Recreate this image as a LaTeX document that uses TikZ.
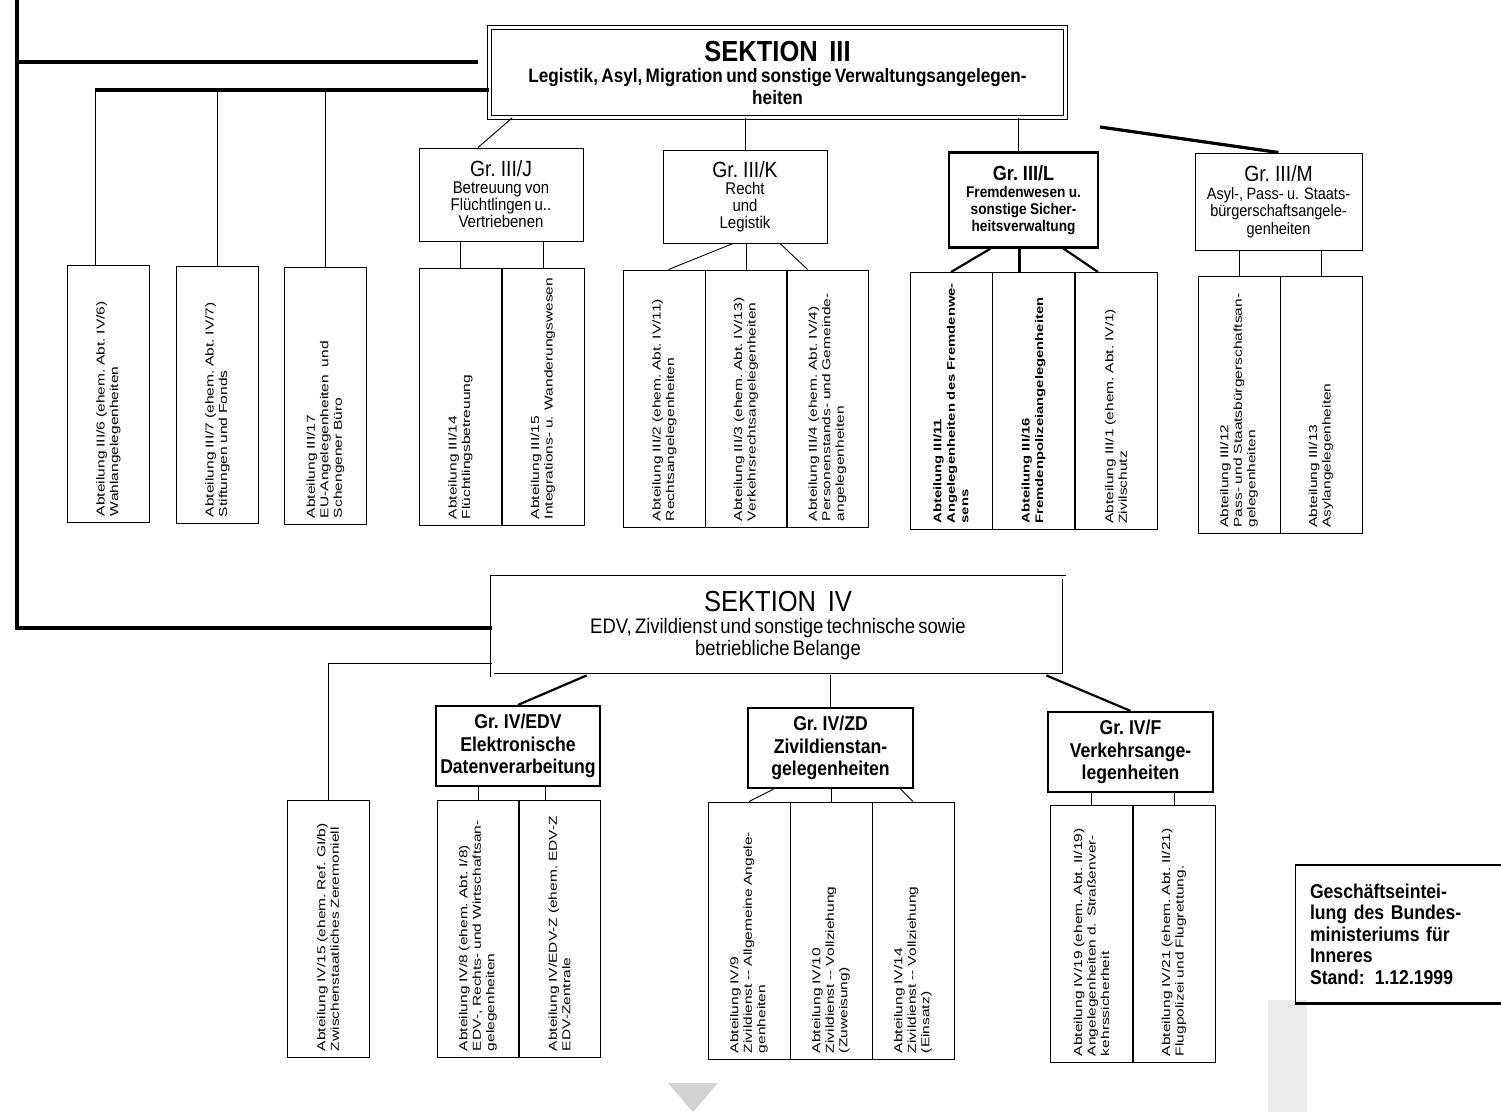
\documentclass[tikz,border=0pt]{standalone}
\usepackage{fontspec}
\setmainfont{Liberation Sans}
\newfontfamily\narrowsf{Liberation Sans}[FakeStretch=0.88]
\newfontfamily\widesf{Liberation Sans}[FakeStretch=1.35]

\tikzset{
  heavy/.style={line width=3.2pt},
  link/.style={line width=0.9pt},
  boldlink/.style={line width=2.2pt},
  sekbox/.style={draw, double, double distance=3pt, line width=0.9pt, inner sep=0pt, align=center, font=\narrowsf},
  grbox/.style={draw, line width=1pt, inner sep=0pt, align=center, font=\narrowsf},
  grboxb/.style={grbox, line width=2.2pt},
  abtbox/.style={draw, line width=1pt, rotate=90, minimum height=82pt, text width=245pt,
    inner xsep=6pt, inner ysep=0pt, align=left, font=\widesf\fontsize{11.5}{13.5}\selectfont},
  stampbox/.style={draw, line width=1pt, minimum width=202pt, minimum height=138pt, text width=176pt,
    inner xsep=15pt, align=left, font=\narrowsf\bfseries\fontsize{20}{21.5}\selectfont},
}

\begin{document}
\begin{tikzpicture}[x=1pt, y=-1pt]
\useasboundingbox (0,0) rectangle (1501,1112);

% scan marks
\fill[gray!35] (668,1083) -- (718,1083) -- (693,1112) -- cycle;
\fill[gray!15] (1268,1000) rectangle (1307,1112);

% Sektion III
\node[sekbox, minimum width=576pt, minimum height=90pt, text width=560pt] (sIII) at (777.5,72.5)
  {{\fontsize{29}{32}\selectfont\bfseries SEKTION\hspace{0.4em}III\par}
   {\fontsize{19.5}{21.5}\selectfont\bfseries Legistik, Asyl, Migration und sonstige Verwaltungsangelegen-\\heiten\par}};

\node[grbox, minimum width=164pt, minimum height=93pt, text width=150pt] (gIIIJ) at (501,194.5)
  {{\fontsize{22}{24}\selectfont Gr. III/J\par}\fontsize{17}{17}\selectfont Betreuung von\\Flüchtlingen u..\\Vertriebenen\par};
\node[grbox, minimum width=164pt, minimum height=93pt, text width=150pt] (gIIIK) at (745,196.5)
  {{\fontsize{22}{24}\selectfont Gr. III/K\par}\fontsize{17}{17}\selectfont Recht\\und\\Legistik\par};
\node[grboxb, minimum width=149pt, minimum height=95pt, text width=140pt] (gIIIL) at (1023.5,200)
  {{\fontsize{20.5}{23}\selectfont\bfseries Gr. III/L\par}\fontsize{15.5}{17}\selectfont\bfseries Fremdenwesen u.\\sonstige Sicher-\\heitsverwaltung\par};
\node[grbox, minimum width=167pt, minimum height=97pt, text width=160pt] (gIIIM) at (1278.5,201.5)
  {{\fontsize{22}{24}\selectfont Gr. III/M\par}\fontsize{16.5}{17.5}\selectfont Asyl-, Pass- u. Staats-\\bürgerschaftsangele-\\genheiten\par};

% Abteilungen Sektion III
\node[abtbox] (A1) at (108.5,393.5) {Abteilung III/6 (ehem.\ Abt.\ IV/6)\\Wahlangelegenheiten};
\node[abtbox] (A2) at (217.5,394.5) {Abteilung III/7 (ehem.\ Abt.\ IV/7)\\Stiftungen und Fonds};
\node[abtbox] (A3) at (325.5,395.5) {Abteilung III/17\\EU-Angelegenheiten\ \ und\\Schengener Büro};
\node[abtbox] (J1) at (460.5,396.5) {Abteilung III/14\\Flüchtlingsbetreuung};
\node[abtbox] (J2) at (543,396.5) {Abteilung III/15\\Integrations- u. Wanderungswesen};
\node[abtbox] (K1) at (664.5,398.5) {Abteilung III/2 (ehem.\ Abt.\ IV/11)\\Rechtsangelegenheiten};
\node[abtbox] (K2) at (746,398.5) {Abteilung III/3 (ehem.\ Abt.\ IV/13)\\Verkehrsrechtsangelegenheiten};
\node[abtbox] (K3) at (827.5,398.5) {Abteilung III/4 (ehem.\ Abt.\ IV/4)\\Personenstands- und Gemeinde-\\angelegenheiten};
\node[abtbox] (L1) at (951,401) {\bfseries\fontsize{11}{13.5}\selectfont Abteilung III/11\\Angelegenheiten des Fremdenwe-\\sens\par};
\node[abtbox] (L2) at (1033.5,401) {\bfseries\fontsize{11}{13.5}\selectfont Abteilung III/16\\Fremdenpolizeiangelegenheiten\par};
\node[abtbox] (L3) at (1116,401) {Abteilung III/1 (ehem.\ Abt.\ IV/1)\\Zivilschutz};
\node[abtbox] (M1) at (1239,405) {Abteilung III/12\\Pass- und Staatsbürgerschaftsan-\\gelegenheiten};
\node[abtbox] (M2) at (1321,405) {Abteilung III/13\\Asylangelegenheiten};

% Sektion IV
\node[sekbox, minimum width=572pt, minimum height=98pt, text width=560pt] (sIV) at (778,626)
  {{\fontsize{29}{32}\selectfont SEKTION\hspace{0.4em}IV\par}
   {\fontsize{21}{22}\selectfont EDV, Zivildienst und sonstige technische sowie\\betriebliche Belange\par}};

\node[grboxb, minimum width=164pt, minimum height=80pt, text width=160pt] (gIVEDV) at (518,746)
  {\fontsize{20}{22.5}\selectfont\bfseries Gr. IV/EDV\\Elektronische\\Datenverarbeitung\par};
\node[grboxb, minimum width=165pt, minimum height=80pt, text width=160pt] (gIVZD) at (830.5,748)
  {\fontsize{20}{22.5}\selectfont\bfseries Gr. IV/ZD\\Zivildienstan-\\gelegenheiten\par};
\node[grboxb, minimum width=165pt, minimum height=80pt, text width=160pt] (gIVF) at (1130.5,752)
  {\fontsize{20}{22.5}\selectfont\bfseries Gr. IV/F\\Verkehrsange-\\legenheiten\par};

% Abteilungen Sektion IV
\node[abtbox] (IV15) at (328,928.5) {Abteilung IV/15 (ehem.\ Ref.\ GI/b)\\Zwischenstaatliches Zeremoniell};
\node[abtbox] (E1) at (478,928.5) {Abteilung IV/8 (ehem.\ Abt.\ I/8)\\EDV-, Rechts- und Wirtschaftsan-\\gelegenheiten};
\node[abtbox] (E2) at (559.5,928.5) {Abteilung IV/EDV-Z (ehem.\ EDV-Z\\EDV-Zentrale};
\node[abtbox] (Z1) at (749,930.5) {Abteilung IV/9\\Zivildienst -- Allgemeine Angele-\\genheiten};
\node[abtbox] (Z2) at (831,930.5) {Abteilung IV/10\\Zivildienst -- Vollziehung\\(Zuweisung)};
\node[abtbox] (Z3) at (913,930.5) {Abteilung IV/14\\Zivildienst -- Vollziehung\\(Einsatz)};
\node[abtbox] (F1) at (1091.5,933.5) {Abteilung IV/19 (ehem.\ Abt.\ II/19)\\Angelegenheiten d. Straßenver-\\kehrssicherheit};
\node[abtbox] (F2) at (1174,933.5) {Abteilung IV/21 (ehem.\ Abt.\ II/21)\\Flugpolizei und Flugrettung.};

% Stand
\node[stampbox] (stamp) at (1398,934) {Geschäftseintei-\\lung des Bundes-\\ministeriums für\\Inneres\\Stand: 1.12.1999\par};
\draw[line width=2.5pt] (stamp.south west) -- (stamp.south east);
\draw[line width=1.8pt] (stamp.north west) -- (stamp.north east);

% feeders
\coordinate (spineT) at (17,0);
\coordinate (spineB) at (17,628);
\coordinate (feedIII) at (478,62);
\coordinate (bus) at (95,90);
\coordinate (feedM) at (1100,127);

\draw[heavy] (spineT) -- (spineB) -- (sIV.west |- spineB);
\draw[heavy] (spineT |- feedIII) -- (feedIII);
\draw[heavy] (bus) -- (sIII.west |- bus);
\draw[link] (bus) -- (bus |- A1.east);
\draw[link] (A2.east) -- (A2.east |- bus);
\draw[link] (A3.east) -- (A3.east |- bus);

% Sektion III to groups
\draw[link] ([xshift=23pt]sIII.south west) -- ([xshift=-23pt]gIIIJ.north);
\draw[link] (gIIIK.north) -- (gIIIK.north |- sIII.south);
\draw[link] ([xshift=-5pt]gIIIL.north) -- ([xshift=-5pt]gIIIL.north |- sIII.south);
\draw[heavy] (feedM) -- (gIIIM.north);

% groups to Abteilungen (III)
\draw[link] (J1.east) -- (J1.east |- gIIIJ.south);
\draw[link] (J2.east) -- (J2.east |- gIIIJ.south);
\draw[link] ([xshift=-12pt]gIIIK.south) -- ([xshift=4pt]K1.east);
\draw[link] (K2.east) -- (K2.east |- gIIIK.south);
\draw[link] ([xshift=35pt]gIIIK.south) -- ([xshift=-20pt]K3.east);
\draw[boldlink] ([xshift=-33pt]gIIIL.south) -- (L1.east);
\draw[boldlink] ([xshift=-4pt]gIIIL.south) -- ([xshift=-4pt]gIIIL.south |- L2.east);
\draw[boldlink] ([xshift=40pt]gIIIL.south) -- ([xshift=-18pt]L3.east);
\draw[link] (M1.east) -- (M1.east |- gIIIM.south);
\draw[link] (M2.east) -- (M2.east |- gIIIM.south);

% Sektion IV to groups
\draw[link] ([yshift=12pt]sIV.south west) -| (IV15.east);
\draw[boldlink] ([xshift=95pt]sIV.south west) -- (gIVEDV.north);
\draw[link] (gIVZD.north) -- (gIVZD.north |- sIV.south);
\draw[boldlink] ([xshift=-18pt]sIV.south east) -- (gIVF.north);

% groups to Abteilungen (IV)
\draw[link] (E1.east) -- (E1.east |- gIVEDV.south);
\draw[link] ([xshift=-14pt]E2.east) -- ([xshift=-14pt]E2.east |- gIVEDV.south);
\draw[link] ([xshift=-57pt]gIVZD.south) -- (Z1.east);
\draw[link] (Z2.east) -- (Z2.east |- gIVZD.south);
\draw[link] ([xshift=70pt]gIVZD.south) -- (Z3.east);
\draw[link] (F1.east) -- (F1.east |- gIVF.south);
\draw[link] (F2.east) -- (F2.east |- gIVF.south);
\end{tikzpicture}
\end{document}
